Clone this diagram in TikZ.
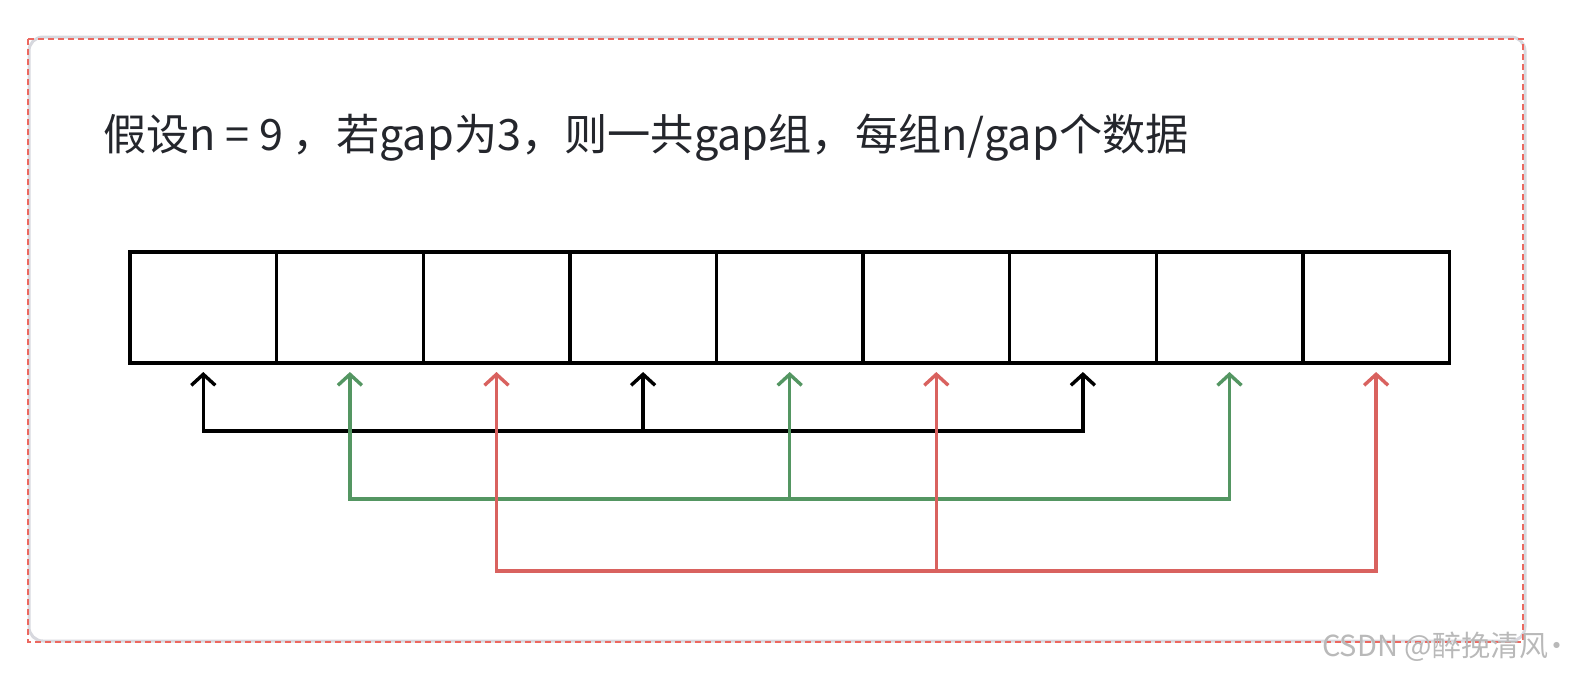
\documentclass[tikz,border=0pt]{standalone}
\usepackage{fontspec}
\setmainfont{Noto Sans CJK SC}
\usetikzlibrary{arrows.meta, positioning, calc}
\definecolor{grpgreen}{RGB}{84, 150, 98}
\definecolor{grpred}{RGB}{217, 98, 95}
\definecolor{framered}{RGB}{236, 104, 96}
\definecolor{framegray}{RGB}{215, 216, 222}
\definecolor{textdark}{RGB}{36, 38, 44}

\begin{document}
\begin{tikzpicture}[
  x=1pt, y=-1pt,
  cell/.style={draw=black, line width=3.4pt, minimum width=146.6pt, minimum height=111pt, outer sep=0pt, inner sep=0pt},
  link/.style={line width=3.4pt, {Straight Barb[length=11pt, width=24pt]}-{Straight Barb[length=11pt, width=24pt]}},
  mid/.style={line width=3.4pt, -{Straight Barb[length=11pt, width=24pt]}},
]
\useasboundingbox (0,0) rectangle (1577,673);

% frame
\draw[framegray, line width=3pt, rounded corners=14pt] (29,37) rectangle (1525,641);
\draw[framered, line width=1.4pt, dash pattern=on 6pt off 4pt] (28,39) rectangle (1523,642);

% title
\node[anchor=base west, inner sep=0pt, text=textdark, font=\fontsize{43.2}{50}\selectfont] (title) at (103,150)
  {假设n = 9 ，若gap为3，则一共gap组，每组n/gap个数据};

% array cells
\node[cell, anchor=north west] (c1) at (130,252) {};
\foreach \i [remember=\i as \j (initially 1)] in {2,...,9}{
  \node[cell, right=0pt of c\j] (c\i) {};
}

% groups with gap = 3
\draw[link, black] ([yshift=-9pt]c1.south) |- ([yshift=-68pt]c7.south) -- ([yshift=-9pt]c7.south);
\draw[mid, black] ([yshift=-68pt]c4.south) -- ([yshift=-9pt]c4.south);

\draw[link, grpgreen] ([yshift=-9pt]c2.south) |- ([yshift=-136pt]c8.south) -- ([yshift=-9pt]c8.south);
\draw[mid, grpgreen] ([yshift=-136pt]c5.south) -- ([yshift=-9pt]c5.south);

\draw[link, grpred] ([yshift=-9pt]c3.south) |- ([yshift=-208pt]c9.south) -- ([yshift=-9pt]c9.south);
\draw[mid, grpred] ([yshift=-208pt]c6.south) -- ([yshift=-9pt]c6.south);

% watermark
\node[anchor=base west, inner sep=0pt, text=gray!55, font=\fontsize{29}{33}\selectfont] (mark) at (1322,656) {CSDN @醉挽清风\kern-6pt·};
\end{tikzpicture}
\end{document}
